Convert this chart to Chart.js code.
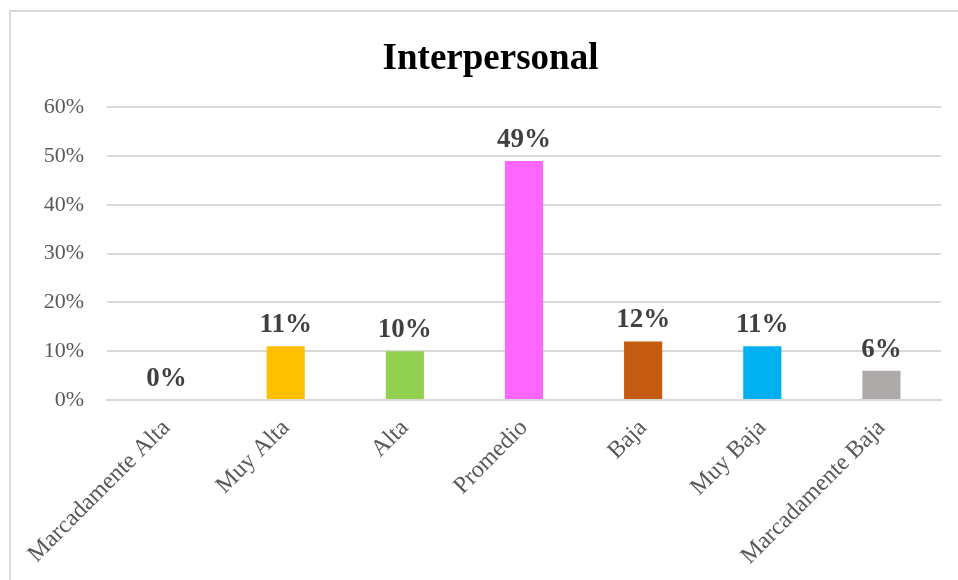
<!DOCTYPE html>
<html>
<head>
<meta charset="utf-8">
<script src="https://cdn.jsdelivr.net/npm/chart.js@4"></script>
<style>
  html, body { margin: 0; padding: 0; background: #fff; }
  #wrap { position: relative; width: 958px; height: 580px; overflow: hidden; }
  #frame { position: absolute; left: 9px; top: 10px; width: 960px; height: 600px;
           border: 2px solid #d9d9d9; box-sizing: border-box; }
  #box { position: absolute; left: 0; top: 0; width: 958px; height: 580px; }
</style>
</head>
<body>
<div id="wrap">
  <div id="frame"></div>
  <div id="box"><canvas id="chart"></canvas></div>
</div>
<script>
// data
var categories = ['Marcadamente Alta', 'Muy Alta', 'Alta', 'Promedio', 'Baja', 'Muy Baja', 'Marcadamente Baja'];
var percents = [0, 11, 10, 49, 12, 11, 6];
var barColors = ['#4472C4', '#FFC000', '#92D050', '#FF66FF', '#C55A11', '#00B0F0', '#AEAAAA'];
var yTicks = [0, 10, 20, 30, 40, 50, 60];

var serif = '"Liberation Serif", "Times New Roman", serif';

// value labels over each bar
var barLabels = {
    id: 'barLabels',
    afterDatasetsDraw: function (chart) {
        var ctx = chart.ctx;
        var meta = chart.getDatasetMeta(0);
        ctx.save();
        ctx.font = 'bold 27px ' + serif;
        ctx.fillStyle = '#404040';
        ctx.textAlign = 'center';
        ctx.textBaseline = 'alphabetic';
        meta.data.forEach(function (bar, i) {
            ctx.fillText(percents[i] + '%', bar.x, bar.y - 14);
        });
        ctx.restore();
    }
};

new Chart(document.getElementById('chart'), {
    type: 'bar',
    data: {
        labels: categories,
        datasets: [{
            data: percents,
            backgroundColor: barColors,
            borderWidth: 0,
            categoryPercentage: 1,
            barPercentage: 0.32
        }]
    },
    options: {
        responsive: true,
        maintainAspectRatio: false,
        animation: false,
        layout: { padding: { left: 40, right: 17, top: 10, bottom: 0 } },
        plugins: {
            legend: { display: false },
            tooltip: { enabled: false },
            title: {
                display: true,
                text: 'Interpersonal',
                color: '#000',
                font: { family: serif, size: 37, weight: 'bold' },
                padding: { top: 27, bottom: 26 }
            }
        },
        scales: {
            x: {
                grid: { display: false, drawTicks: false },
                border: { color: '#d9d9d9', width: 2 },
                ticks: {
                    color: '#595959',
                    font: { family: serif, size: 24 },
                    minRotation: 45,
                    maxRotation: 45,
                    autoSkip: false,
                    padding: 14
                },
                afterFit: function (scale) { scale.height = 180; }
            },
            y: {
                min: 0,
                max: 60,
                afterBuildTicks: function (scale) {
                    scale.ticks = yTicks.map(function (v) { return { value: v }; });
                },
                grid: { color: '#d9d9d9', lineWidth: 2, drawTicks: false },
                border: { display: false },
                ticks: {
                    color: '#595959',
                    font: { family: serif, size: 22 },
                    padding: 23,
                    callback: function (v) { return v + '%'; }
                },
                afterFit: function (scale) { scale.width = 67; }
            }
        }
    },
    plugins: [barLabels]
});
</script>
</body>
</html>
